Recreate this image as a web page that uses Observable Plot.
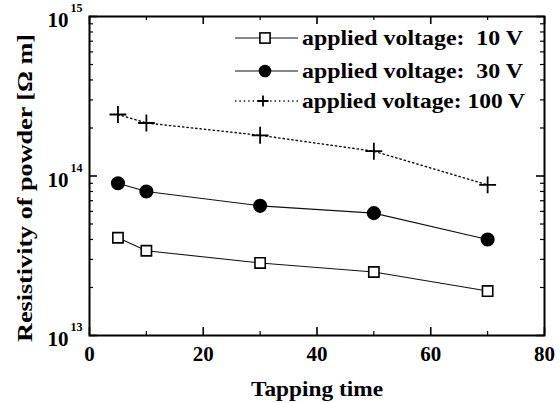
<!DOCTYPE html>
<html><head><meta charset="utf-8">
<script src="https://cdn.jsdelivr.net/npm/d3@7"></script>
<script src="https://cdn.jsdelivr.net/npm/@observablehq/plot@0.6"></script>
<style>
body{margin:0;background:#fff;}
#chart{position:relative;width:560px;height:403px;}
</style>
</head><body><div id="chart"></div>
<script>
const tappingTime = [5, 10, 30, 50, 70];
const res10V  = [4.1e13, 3.4e13, 2.85e13, 2.5e13, 1.9e13];
const res30V  = [9.0e13, 8.0e13, 6.5e13, 5.85e13, 4.0e13];
const res100V = [2.43e14, 2.15e14, 1.8e14, 1.43e14, 8.8e13];
const seriesLabels = ["applied voltage:  10 V", "applied voltage:  30 V", "applied voltage: 100 V"];
const xMajorTicks = [0, 20, 40, 60, 80];
const xMinorTicks = [10, 30, 50, 70];
const yMajorTicks = [1e13, 1e14, 1e15];
const yMinorTicks = [2e13, 3e13, 4e13, 5e13, 6e13, 7e13, 8e13, 9e13, 2e14, 3e14, 4e14, 5e14, 6e14, 7e14, 8e14, 9e14];
const xLabel = "Tapping time";
const yLabel = "Resistivity of powder [Ω m]";

const FONT = "'Liberation Serif', 'Times New Roman', serif";
const rows = (vals) => tappingTime.map((t, i) => ({t, v: vals[i]}));
const d10 = rows(res10V), d30 = rows(res30V), d100 = rows(res100V);

const X0 = 0, X1 = 80, Y0 = 1e13, Y1 = 1e15;

const chart = Plot.plot({
  width: 560, height: 403,
  marginLeft: 89, marginRight: 16, marginTop: 16, marginBottom: 68,
  style: {fontFamily: FONT, background: "white", color: "black"},
  x: {domain: [X0, X1], axis: null},
  y: {type: "log", domain: [Y0, Y1], axis: null},
  marks: [
    Plot.frame({fill: "none", stroke: "black", strokeWidth: 2}),
    // tick labels
    Plot.text(xMajorTicks, {x: d => d, text: d => String(d), frameAnchor: "bottom", dy: 19, lineAnchor: "middle", fontSize: 21, fontWeight: "bold"}),
    Plot.text(yMajorTicks, {y: d => d, text: () => "10", frameAnchor: "left", dx: -21, dy: 4, textAnchor: "end", lineAnchor: "middle", fontSize: 21, fontWeight: "bold"}),
    Plot.text(yMajorTicks, {y: d => d, text: d => String(Math.round(Math.log10(d))), frameAnchor: "left", dx: -19, dy: -8, textAnchor: "start", lineAnchor: "middle", fontSize: 12, fontWeight: "bold"}),
    // axis labels
    Plot.text([xLabel], {text: d => d, frameAnchor: "bottom", dy: 53, textAnchor: "middle", lineAnchor: "middle", fontSize: 22, fontWeight: "bold"}),
    Plot.text([yLabel], {text: d => d, frameAnchor: "left", dx: -65, dy: 12, rotate: -90, textAnchor: "middle", lineAnchor: "middle", fontSize: 22, fontWeight: "bold"}),
    // series
    Plot.line(d10, {x: "t", y: "v", stroke: "#111", strokeWidth: 1.1}),
    Plot.line(d30, {x: "t", y: "v", stroke: "#111", strokeWidth: 1.1}),
    Plot.line(d100, {x: "t", y: "v", stroke: "#111", strokeWidth: 1.4, strokeDasharray: "1.4,3"}),
    Plot.dot(d10, {x: "t", y: "v", symbol: "square", r: 5.8, fill: "white", stroke: "black", strokeWidth: 1.6}),
    Plot.dot(d30, {x: "t", y: "v", symbol: "circle", r: 6.3, fill: "black", stroke: "black"}),
    Plot.dot(d100, {x: "t", y: "v", symbol: "plus", r: 5.5, stroke: "black", strokeWidth: 1.8}),
    // inward tick marks on all four sides
    Plot.ruleX(xMajorTicks, {x: d => d, y1: () => Y0, y2: () => Y0, insetTop: -8, stroke: "black", strokeWidth: 1.6}),
    Plot.ruleX(xMajorTicks, {x: d => d, y1: () => Y1, y2: () => Y1, insetBottom: -8, stroke: "black", strokeWidth: 1.6}),
    Plot.ruleX(xMinorTicks, {x: d => d, y1: () => Y0, y2: () => Y0, insetTop: -4, stroke: "black", strokeWidth: 1.2}),
    Plot.ruleX(xMinorTicks, {x: d => d, y1: () => Y1, y2: () => Y1, insetBottom: -4, stroke: "black", strokeWidth: 1.2}),
    Plot.ruleY(yMajorTicks, {y: d => d, x1: () => X0, x2: () => X0, insetRight: -8, stroke: "black", strokeWidth: 1.6}),
    Plot.ruleY(yMajorTicks, {y: d => d, x1: () => X1, x2: () => X1, insetLeft: -8, stroke: "black", strokeWidth: 1.6}),
    Plot.ruleY(yMinorTicks, {y: d => d, x1: () => X0, x2: () => X0, insetRight: -4, stroke: "black", strokeWidth: 1.2}),
    Plot.ruleY(yMinorTicks, {y: d => d, x1: () => X1, x2: () => X1, insetLeft: -4, stroke: "black", strokeWidth: 1.2})
  ]
});
document.getElementById("chart").appendChild(chart);

const svg = d3.select(chart);
// stretch axis titles to the reference's wider letterforms
svg.selectAll("text").each(function() {
  const t = this.textContent;
  if (t === yLabel) d3.select(this).attr("textLength", 308).attr("lengthAdjust", "spacingAndGlyphs");
  if (t === xLabel) d3.select(this).attr("textLength", 132).attr("lengthAdjust", "spacingAndGlyphs");
});

// legend drawn inside the plot area
const legendRows = [
  {label: seriesLabels[0], y: 38, kind: "square"},
  {label: seriesLabels[1], y: 71, kind: "circle"},
  {label: seriesLabels[2], y: 101, kind: "plus"}
];
const lg = svg.append("g").attr("text-anchor", "start");
legendRows.forEach(r => {
  lg.append("line").attr("x1", 235).attr("x2", 298).attr("y1", r.y).attr("y2", r.y)
    .attr("stroke", "#111").attr("stroke-width", r.kind === "plus" ? 1.4 : 1.1)
    .attr("stroke-dasharray", r.kind === "plus" ? "1.4,3" : null);
  if (r.kind === "square") {
    lg.append("rect").attr("x", 265 - 5.1).attr("y", r.y - 5.1).attr("width", 10.2).attr("height", 10.2)
      .attr("fill", "white").attr("stroke", "black").attr("stroke-width", 1.6);
  } else if (r.kind === "circle") {
    lg.append("circle").attr("cx", 265).attr("cy", r.y).attr("r", 6.3).attr("fill", "black");
  } else {
    lg.append("path").attr("d", `M${263-5.5},${r.y}h11M263,${r.y-5.5}v11`).attr("stroke", "black").attr("stroke-width", 1.8);
  }
  lg.append("text").attr("x", 302).attr("y", r.y).attr("dy", "0.32em").attr("text-anchor", "start")
    .attr("font-family", FONT).attr("font-weight", "bold").attr("font-size", 21)
    .attr("xml:space", "preserve").style("white-space", "pre")
    .attr("textLength", r.kind === "plus" ? 223 : 221).attr("lengthAdjust", "spacingAndGlyphs")
    .text(r.label);
});
</script>
</body></html>
